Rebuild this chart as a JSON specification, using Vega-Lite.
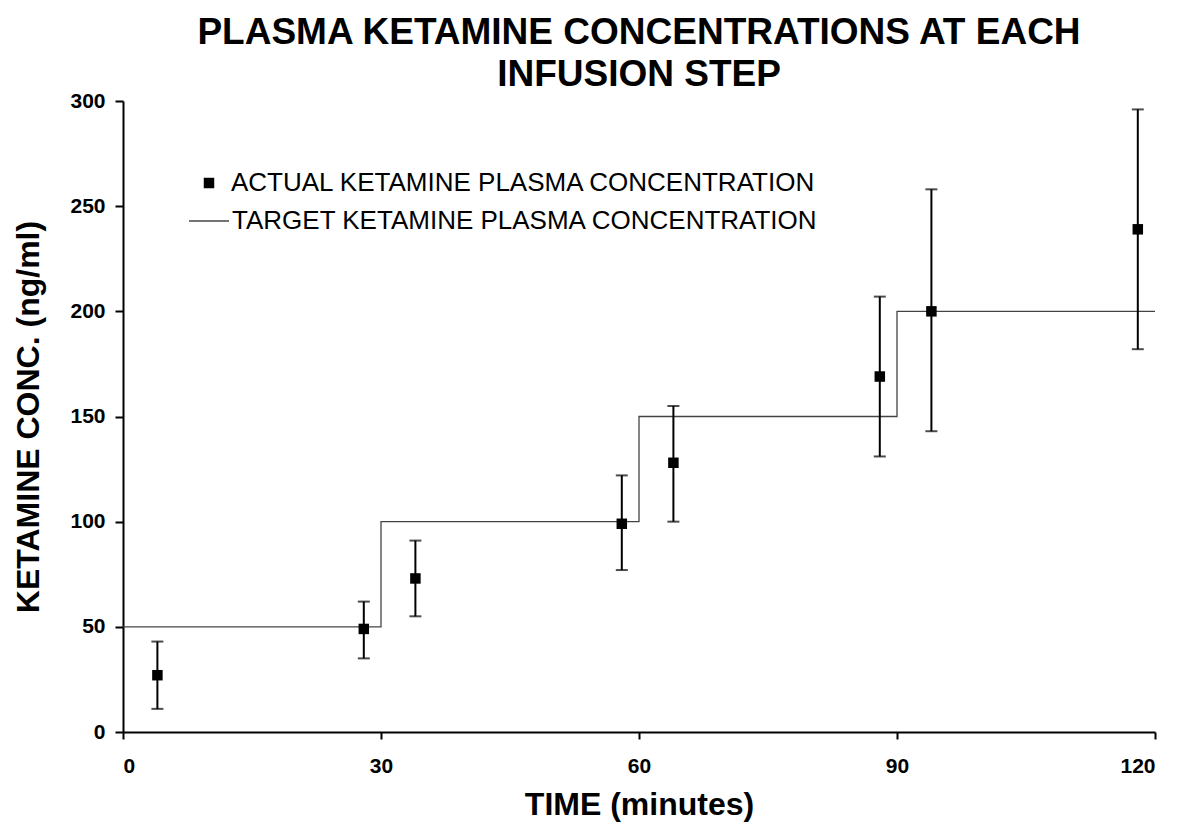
{
  "$schema": "https://vega.github.io/schema/vega-lite/v6.json",
  "autosize": "none",
  "width": 1032,
  "height": 631,
  "padding": {"left": 123, "top": 101, "right": 22, "bottom": 94},
  "background": "white",
  "config": {
    "font": "Liberation Sans",
    "view": {"stroke": null},
    "axis": {
      "grid": false,
      "domainColor": "black",
      "domainWidth": 2,
      "tickColor": "black",
      "tickWidth": 2,
      "tickSize": 7,
      "labelColor": "black",
      "labelFont": "Liberation Sans",
      "labelFontWeight": "bold",
      "labelFontSize": 21,
      "titleColor": "black",
      "titleFont": "Liberation Sans",
      "titleFontWeight": "bold",
      "titleFontSize": 32
    },
    "legend": {
      "title": null,
      "orient": "none",
      "padding": 0,
      "labelFont": "Liberation Sans",
      "labelFontSize": 26,
      "labelColor": "black",
      "labelLimit": 900,
      "symbolOpacity": 1
    }
  },
  "title": {
    "text": ["PLASMA KETAMINE CONCENTRATIONS AT EACH", "INFUSION STEP"],
    "font": "Liberation Sans",
    "fontWeight": "bold",
    "fontSize": 37,
    "lineHeight": 42,
    "color": "black",
    "anchor": "middle",
    "offset": -4
  },
  "datasets": {
    "actual": [
      {"time": 4, "conc": 27, "lo": 11, "hi": 43},
      {"time": 28, "conc": 49, "lo": 35, "hi": 62},
      {"time": 34, "conc": 73, "lo": 55, "hi": 91},
      {"time": 58, "conc": 99, "lo": 77, "hi": 122},
      {"time": 64, "conc": 128, "lo": 100, "hi": 155},
      {"time": 88, "conc": 169, "lo": 131, "hi": 207},
      {"time": 94, "conc": 200, "lo": 143, "hi": 258},
      {"time": 118, "conc": 239, "lo": 182, "hi": 296}
    ],
    "target": [
      {"time": 0, "conc": 50},
      {"time": 30, "conc": 100},
      {"time": 60, "conc": 150},
      {"time": 90, "conc": 200},
      {"time": 120, "conc": 200}
    ]
  },
  "layer": [
    {
      "data": {"name": "target"},
      "mark": {"type": "line", "interpolate": "step-after", "strokeWidth": 1.3},
      "encoding": {
        "x": {"field": "time", "type": "quantitative", "title": "TIME (minutes)", "scale": {"domain": [0, 120], "nice": false},
              "axis": {"values": [0, 30, 60, 90, 120], "labelFontSize": 21, "labelFontWeight": "bold", "labelPadding": 16, "titlePadding": 13}},
        "y": {"field": "conc", "type": "quantitative", "title": "KETAMINE CONC. (ng/ml)", "scale": {"domain": [0, 300], "nice": false},
              "axis": {"values": [0, 50, 100, 150, 200, 250, 300], "labelFontSize": 21, "labelFontWeight": "bold", "tickSize": 8, "labelPadding": 10, "titlePadding": 24}},
        "color": {
          "datum": "TARGET KETAMINE PLASMA CONCENTRATION",
          "scale": {"range": ["#444444"]},
          "legend": {
            "legendX": 65,
            "legendY": 99,
            "symbolType": "stroke",
            "symbolSize": 1600,
            "symbolStrokeWidth": 1.3,
            "labelOffset": 2
          }
        }
      }
    },
    {
      "data": {"name": "actual"},
      "mark": {"type": "errorbar", "color": "black", "thickness": 2, "ticks": {"size": 12, "thickness": 2, "color": "black"}},
      "encoding": {
        "x": {"field": "time", "type": "quantitative", "title": "TIME (minutes)"},
        "y": {"field": "lo", "type": "quantitative", "title": "KETAMINE CONC. (ng/ml)"},
        "y2": {"field": "hi"}
      }
    },
    {
      "data": {"name": "actual"},
      "mark": {"type": "point", "filled": true, "color": "black", "opacity": 1, "size": 110},
      "encoding": {
        "x": {"field": "time", "type": "quantitative", "title": "TIME (minutes)"},
        "y": {"field": "conc", "type": "quantitative", "title": "KETAMINE CONC. (ng/ml)"},
        "shape": {
          "datum": "ACTUAL KETAMINE PLASMA CONCENTRATION",
          "scale": {"range": ["square"]},
          "legend": {
            "legendX": 73,
            "legendY": 69,
            "symbolSize": 110,
            "symbolFillColor": "black",
            "symbolStrokeColor": "black",
            "symbolStrokeWidth": 0,
            "labelOffset": 9
          }
        }
      }
    }
  ]
}
